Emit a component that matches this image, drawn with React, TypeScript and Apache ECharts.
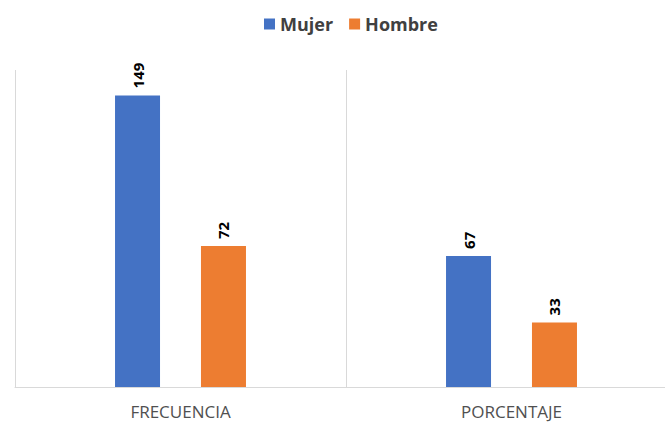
import React, { useEffect, useRef } from "react";
import * as echarts from "echarts";

const categories = ["FRECUENCIA", "PORCENTAJE"];
const mujer = [149, 67];
const hombre = [72, 33];

export default function App() {
  const ref = useRef<HTMLDivElement>(null);
  useEffect(() => {
    const chart = echarts.init(ref.current!, null, { renderer: "svg" });
    const label = {
      show: true,
      position: "top",
      rotate: 90,
      align: "left",
      verticalAlign: "middle",
      distance: 7,
      color: "#000",
      fontWeight: "bold",
      fontSize: 15,
      fontFamily: "Open Sans",
    };
    chart.setOption({
      animation: false,
      legend: {
        top: 10,
        left: 259,
        itemWidth: 11,
        itemHeight: 11,
        itemGap: 16,
        icon: "rect",
        textStyle: { fontSize: 18, fontWeight: "bold", color: "#404040", fontFamily: "Open Sans" },
        data: ["Mujer", "Hombre"],
      },
      grid: { left: 15, width: 662, top: 70, bottom: 36, outerBoundsMode: "none", containLabel: false },
      xAxis: {
        type: "category",
        data: categories,
        axisLine: { lineStyle: { color: "#d9d9d9" } },
        axisTick: { show: false },
        splitLine: { show: true, lineStyle: { color: "#d9d9d9" } },
        axisLabel: {
          margin: 16,
          fontSize: 17,
          color: "#505050",
          fontFamily: "Open Sans",
        },
      },
      yAxis: {
        type: "value",
        min: 0,
        max: 162,
        show: false,
        splitLine: { show: false },
      },
      series: [
        {
          name: "Mujer",
          type: "bar",
          data: mujer,
          barWidth: 45,
          barGap: "91%",
          itemStyle: { color: "#4472C4" },
          label,
        },
        {
          name: "Hombre",
          type: "bar",
          data: hombre,
          barWidth: 45,
          itemStyle: { color: "#ED7D31" },
          label,
        },
      ],
    });
    return () => chart.dispose();
  }, []);
  return <div ref={ref} style={{ width: 665, height: 423, position: "absolute", left: 0, top: 0 }} />;
}
